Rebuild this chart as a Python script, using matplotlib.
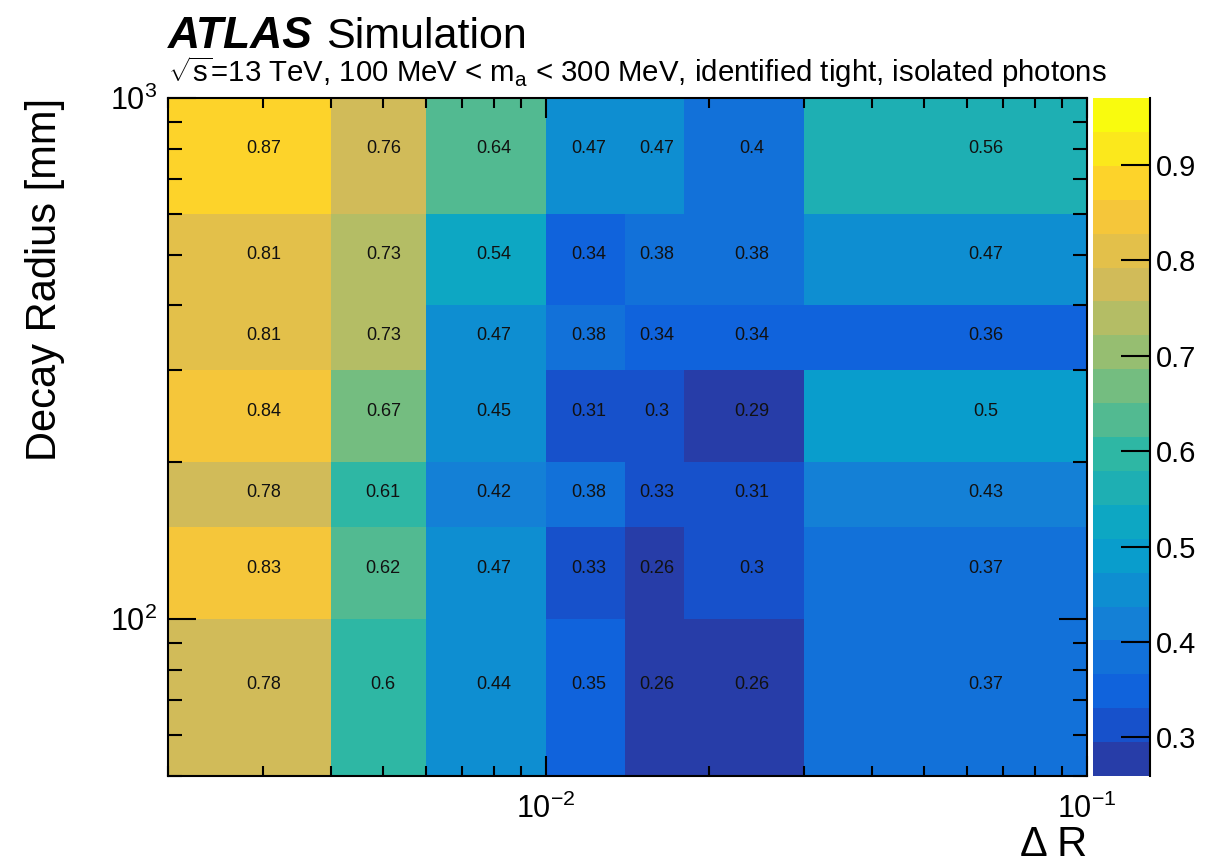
import numpy as np
import matplotlib
matplotlib.use('Agg')
import matplotlib.pyplot as plt
from matplotlib.colors import LinearSegmentedColormap, ListedColormap, BoundaryNorm
from matplotlib.ticker import LogLocator, NullFormatter

plt.rcParams['font.family'] = ['Liberation Sans', 'DejaVu Sans']
plt.rcParams['mathtext.fontset'] = 'custom'
plt.rcParams['mathtext.rm'] = 'Liberation Sans'
plt.rcParams['mathtext.it'] = 'Liberation Sans:italic'
plt.rcParams['mathtext.bf'] = 'Liberation Sans:bold'

# bin edges
dr_edges = [0.002, 0.004, 0.006, 0.01, 0.014, 0.018, 0.03, 0.1]
radius_edges = [50, 100, 150, 200, 300, 400, 600, 1000]

# efficiencies, rows from lowest radius bin to highest
eff_50_100 = [0.78, 0.6, 0.44, 0.35, 0.26, 0.26, 0.37]
eff_100_150 = [0.83, 0.62, 0.47, 0.33, 0.26, 0.3, 0.37]
eff_150_200 = [0.78, 0.61, 0.42, 0.38, 0.33, 0.31, 0.43]
eff_200_300 = [0.84, 0.67, 0.45, 0.31, 0.3, 0.29, 0.5]
eff_300_400 = [0.81, 0.73, 0.47, 0.38, 0.34, 0.34, 0.36]
eff_400_600 = [0.81, 0.73, 0.54, 0.34, 0.38, 0.38, 0.47]
eff_600_1000 = [0.87, 0.76, 0.64, 0.47, 0.47, 0.4, 0.56]

z_min, z_max = 0.2594, 0.9702
cbar_ticks = [0.3, 0.4, 0.5, 0.6, 0.7, 0.8, 0.9]

eff = np.array([eff_50_100, eff_100_150, eff_150_200, eff_200_300,
                eff_300_400, eff_400_600, eff_600_1000])

# ROOT kBird palette, 20 contour levels
stops = [0.0, 0.125, 0.25, 0.375, 0.5, 0.625, 0.75, 0.875, 1.0]
red = [0.2082, 0.0592, 0.0780, 0.0232, 0.1802, 0.5301, 0.8186, 0.9956, 0.9764]
green = [0.1664, 0.3599, 0.5041, 0.6419, 0.7178, 0.7492, 0.7328, 0.7862, 0.9832]
blue = [0.5293, 0.8684, 0.8385, 0.7914, 0.6425, 0.4662, 0.3499, 0.1968, 0.0539]
bird = LinearSegmentedColormap.from_list(
    'bird', list(zip(stops, zip(red, green, blue))), N=255)
nlev = 20
cols = [bird(int((i + 0.99) * 255 / nlev) / 254.0) for i in range(nlev)]
cmap = ListedColormap(cols)
cmap.set_under(cols[0])
cmap.set_over(cols[-1])
levels = np.linspace(z_min, z_max, nlev + 1)
norm = BoundaryNorm(levels, nlev)

fig = plt.figure(figsize=(12.17, 8.66), dpi=100)
ax = fig.add_axes([168 / 1217, 90 / 866, 919 / 1217, 678 / 866])
cax = fig.add_axes([1093 / 1217, 90 / 866, 57 / 1217, 678 / 866])

mesh = ax.pcolormesh(dr_edges, radius_edges, eff, cmap=cmap, norm=norm)
ax.set_xscale('log')
ax.set_yscale('log')
ax.set_xlim(dr_edges[0], dr_edges[-1])
ax.set_ylim(radius_edges[0], radius_edges[-1])

# values written at the (linear) bin centres, like ROOT's TEXT option
for j in range(len(radius_edges) - 1):
    yc = 0.5 * (radius_edges[j] + radius_edges[j + 1])
    for i in range(len(dr_edges) - 1):
        xc = 0.5 * (dr_edges[i] + dr_edges[i + 1])
        ax.text(xc, yc, f'{eff[j, i]:g}', ha='center', va='center',
                fontsize=13, color='#111111')

ax.xaxis.set_major_locator(LogLocator(base=10))
ax.xaxis.set_minor_locator(LogLocator(base=10, subs=np.arange(2, 10)))
ax.yaxis.set_major_locator(LogLocator(base=10))
ax.yaxis.set_minor_locator(LogLocator(base=10, subs=np.arange(2, 10)))
ax.xaxis.set_minor_formatter(NullFormatter())
ax.yaxis.set_minor_formatter(NullFormatter())

ax.tick_params(which='both', direction='in', top=True, right=True, width=1.5,
               labelsize=22)
ax.tick_params(axis='x', which='major', length=14.5, pad=13)
ax.tick_params(axis='x', which='minor', length=7)
ax.tick_params(axis='y', which='major', length=20, pad=8)
ax.tick_params(axis='y', which='minor', length=10)
for sp in ax.spines.values():
    sp.set_linewidth(1.5)
ax.set_axisbelow(False)

cbar = fig.colorbar(mesh, cax=cax)
cbar.outline.set_visible(False)
cbar.set_ticks(cbar_ticks)
cbar.set_ticklabels([f'{t:g}' for t in cbar_ticks])
cax.minorticks_off()
cax.tick_params(direction='in', length=21, width=1.5, labelsize=21, pad=4)
cax.plot([1, 1], [0, 1], transform=cax.transAxes, color='k', lw=1.5,
         clip_on=False)

# ATLAS label
fig.text(168 / 1217, 1 - 48 / 866, 'ATLAS', fontsize=32, fontweight='bold',
         fontstyle='italic', va='baseline', ha='left')
fig.text(326 / 1217, 1 - 48 / 866, 'Simulation', fontsize=31,
         va='baseline', ha='left')
fig.text(168 / 1217, 1 - 82 / 866,
         r'$\sqrt{\mathregular{s}}$=13 TeV, 100 MeV < $\mathregular{m_{a}}$ < 300 MeV, identified tight, isolated photons',
         fontsize=21.2, va='baseline', ha='left')

fig.text(45 / 1217, 1 - 98 / 866, 'Decay Radius [mm]', fontsize=30,
         rotation=90, ha='center', va='top')
fig.text(1087 / 1217, 10 / 866, 'Δ R', fontsize=30, ha='right', va='baseline')

fig.savefig('out.png', dpi=100)
